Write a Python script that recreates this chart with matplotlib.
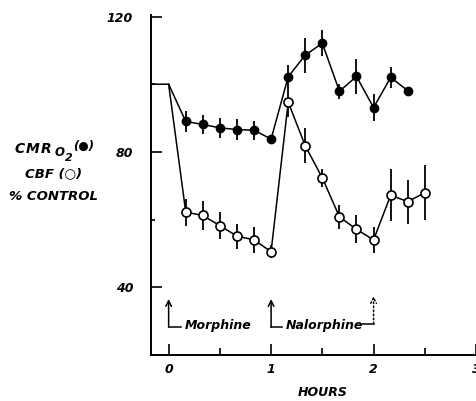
import matplotlib
matplotlib.use("Agg")
import matplotlib.pyplot as plt

# data (percent of control)
hours = [0.167, 0.333, 0.5, 0.667, 0.833, 1.0, 1.167, 1.333, 1.5,
         1.667, 1.833, 2.0, 2.167, 2.333, 2.5]
cmr = [89.0, 88.1, 87.1, 86.6, 86.4, 83.8, 102.2, 108.6, 112.1,
       97.9, 102.3, 93.1, 102.0, 98.1]
cmr_err = [3.1, 2.8, 3.0, 3.0, 2.8, 1.3, 3.4, 5.2, 3.8,
           2.2, 5.1, 3.9, 3.0, 0.0]
cbf = [62.2, 61.2, 58.2, 55.1, 54.0, 50.5, 94.7, 81.8, 72.3,
       60.8, 57.1, 54.0, 67.2, 65.3, 67.9]
cbf_err = [4.0, 4.2, 4.0, 3.7, 3.8, 2.0, 4.5, 5.2, 2.7,
           3.6, 4.1, 3.8, 7.6, 6.5, 8.1]
control_hours = [-0.17, 0.0]
control_pct = [100, 100]

fs = 9
font = dict(fontstyle="italic", fontsize=fs, fontweight="bold", family="DejaVu Sans")

W, H = 477, 401
fig = plt.figure(figsize=(W / 100, H / 100), dpi=100)
ax = fig.add_axes([0.317, 0.115, 0.681, 0.848])

# CMRO2 (filled)
n = len(cmr)
ax.plot(control_hours + hours[:n], control_pct + cmr, color="black", lw=1.1, zorder=2)
ax.errorbar(hours[:n], cmr, yerr=cmr_err, fmt="none", ecolor="black",
            elinewidth=1.3, capsize=0, zorder=2)
ax.plot(hours[:n], cmr, "o", color="black", ms=6, zorder=3)

# CBF (open)
ax.plot(control_hours[1:] + hours, control_pct[1:] + cbf, color="black", lw=1.1, zorder=2)
ax.errorbar(hours, cbf, yerr=cbf_err, fmt="none", ecolor="black",
            elinewidth=1.3, capsize=0, zorder=2)
ax.plot(hours, cbf, "o", mfc="white", mec="black", mew=1.2, ms=6.5, zorder=3)

ax.set_xlim(-0.17, 3.0)
ax.set_ylim(20, 120.5)
for s in ["top", "right"]:
    ax.spines[s].set_visible(False)
ax.spines["left"].set_linewidth(1.4)
ax.spines["bottom"].set_linewidth(1.4)

ax.set_yticks([40, 80, 120])
ax.set_yticks([60, 100], minor=True)
ax.set_xticks([0, 1, 2, 3])
ax.set_xticks([0.5, 1.5, 2.5], minor=True)
ax.tick_params(axis="y", which="major", direction="in", length=8, width=1.2, pad=13)
ax.tick_params(axis="y", which="minor", direction="in", length=3, width=1.2)
ax.tick_params(axis="x", which="major", direction="in", length=8, width=1.2, pad=6)
ax.tick_params(axis="x", which="minor", direction="in", length=5, width=1.2)
ax.set_yticklabels(["40", "80", "120"], **font)
ax.set_xticklabels(["0", "1", "2", "3"], **font)

ax.text(1.5, -0.112, "HOURS", transform=ax.get_xaxis_transform(),
        ha="center", va="center", **font)

# drug markers
arrow = dict(arrowstyle="->", lw=1.1, color="black", shrinkA=0, shrinkB=0)
ax.annotate("", xy=(0, 36.5), xytext=(0, 28.2), arrowprops=arrow)
ax.plot([0, 0.12], [28.2, 28.2], color="black", lw=1.1)
ax.text(0.16, 28.6, "Morphine", va="center", ha="left", **font)

ax.annotate("", xy=(1, 36.5), xytext=(1, 28.2), arrowprops=arrow)
ax.plot([1, 1.11], [28.2, 28.2], color="black", lw=1.1)
ax.text(1.14, 28.6, "Nalorphine", va="center", ha="left", **font)
ax.plot([1.89, 2.0], [29.2, 29.2], color="black", lw=1.1)
ax.annotate("", xy=(2, 37.4), xytext=(2, 29.2), arrowprops=dict(arrow, ls=":"))

# y label block, placed in pixels
def ptext(x, y, s, **kw):
    fig.text(x / W, 1 - y / H, s, va="center", **kw)

yfont = dict(font, fontsize=9.5)
# wide lettering like the original
for x, ch in zip([15, 26, 41], "CMR"):
    ptext(x, 149, ch, ha="left", **dict(yfont, fontsize=10))
ptext(55, 153, "O", ha="left", **dict(yfont, fontsize=8.5))
ptext(65, 158, "2", ha="left", **dict(yfont, fontsize=8))
ptext(73, 146, "(●)", ha="left", **dict(yfont, fontsize=8.5))
ptext(54, 174, "CBF (○)", ha="center", **yfont)
ptext(54, 197, "% CONTROL", ha="center", **yfont)

fig.savefig("out.png", dpi=100)
